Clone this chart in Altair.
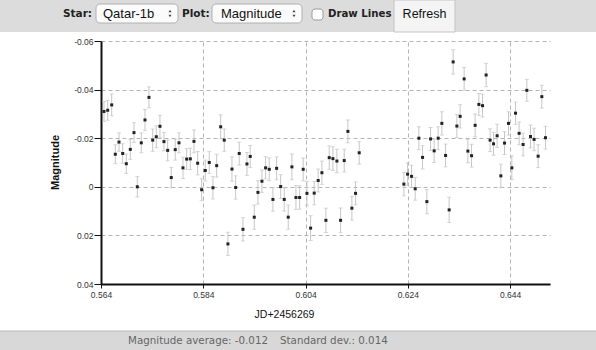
import altair as alt
import pandas as pd

# ---- data ----
jd = [
    0.56459, 0.56531, 0.56609, 0.56680, 0.56752, 0.56824, 0.56895, 0.56973, 0.57045, 0.57110,
    0.57188, 0.57260, 0.57338, 0.57411, 0.57481, 0.57553, 0.57631, 0.57704, 0.57774, 0.57852,
    0.57925, 0.58003, 0.58075, 0.58146, 0.58218, 0.58290, 0.58368, 0.58439, 0.58517, 0.58589,
    0.58662, 0.58740, 0.58810, 0.58882, 0.58961, 0.59033, 0.59103, 0.59176, 0.59254,
    0.59318, 0.59397, 0.59469, 0.59547, 0.59619, 0.59690, 0.59762, 0.59834, 0.59913, 0.59983,
    0.60061, 0.60133, 0.60212, 0.60284, 0.60354, 0.60427, 0.60499, 0.60569, 0.60647, 0.60720,
    0.60798, 0.60863, 0.60935, 0.61013, 0.61085, 0.61156, 0.61228, 0.61306, 0.61378, 0.61449,
    0.62323, 0.62395, 0.62473, 0.62544, 0.62616, 0.62688, 0.62772, 0.62845, 0.62915, 0.62993,
    0.63065, 0.63138, 0.63208, 0.63286, 0.63359, 0.63423, 0.63501, 0.63574, 0.63646, 0.63716,
    0.63789, 0.63861, 0.63931, 0.64009, 0.64076, 0.64146, 0.64219, 0.64291, 0.64369, 0.64434,
    0.64506, 0.64576, 0.64654, 0.64727, 0.64799, 0.64869, 0.64948, 0.65020, 0.65092,
]
mag = [
    -0.0310, -0.0315, -0.0337, -0.0134, -0.0184, -0.0137, -0.0095, -0.0154, -0.0223, 0.0000,
    -0.0181, -0.0275, -0.0368, -0.0192, -0.0206, -0.0249, -0.0186, -0.0150, -0.0038, -0.0153,
    -0.0181, -0.0078, -0.0114, -0.0115, -0.0187, -0.0097, 0.0012, -0.0067, -0.0100, 0.0004,
    -0.0087, -0.0247, -0.0192, 0.0235, -0.0073, 0.0003, -0.0137, 0.0175, -0.0094,
    -0.0125, 0.0125, 0.0023, -0.0023, -0.0078, -0.0072, 0.0052, -0.0076, -0.0001, 0.0052,
    0.0125, -0.0082, 0.0044, 0.0044, -0.0072, 0.0027, 0.0170, 0.0026, -0.0026, -0.0058,
    0.0138, -0.0120, -0.0116, -0.0106, 0.0138, -0.0108, -0.0228, 0.0088, 0.0027, -0.0140,
    -0.0011, -0.0052, -0.0043, 0.0008, -0.0200, -0.0121, 0.0061, -0.0197, -0.0148, -0.0200,
    -0.0261, -0.0129, 0.0095, -0.0514, -0.0250, -0.0290, -0.0444, -0.0147, -0.0128, -0.0253,
    -0.0339, -0.0334, -0.0460, -0.0192, -0.0177, -0.0210, -0.0045, -0.0180, -0.0261, -0.0078,
    -0.0303, -0.0220, -0.0174, -0.0397, -0.0207, -0.0195, -0.0126, -0.0371, -0.0202,
]
err = [
    0.0041, 0.0041, 0.0045, 0.0039, 0.0038, 0.0040, 0.0040, 0.0041, 0.0041, 0.0042,
    0.0041, 0.0043, 0.0043, 0.0046, 0.0045, 0.0045, 0.0038, 0.0043, 0.0042, 0.0043,
    0.0041, 0.0044, 0.0043, 0.0044, 0.0047, 0.0048, 0.0045, 0.0043, 0.0045, 0.0046,
    0.0047, 0.0049, 0.0046, 0.0048, 0.0050, 0.0048, 0.0047, 0.0048, 0.0047,
    0.0045, 0.0050, 0.0048, 0.0046, 0.0046, 0.0047, 0.0048, 0.0047, 0.0049, 0.0048,
    0.0050, 0.0053, 0.0049, 0.0048, 0.0047, 0.0049, 0.0051, 0.0048, 0.0047, 0.0048,
    0.0050, 0.0048, 0.0049, 0.0048, 0.0051, 0.0047, 0.0047, 0.0049, 0.0047, 0.0047,
    0.0048, 0.0047, 0.0046, 0.0047, 0.0047, 0.0048, 0.0050, 0.0047, 0.0048, 0.0047,
    0.0048, 0.0047, 0.0052, 0.0050, 0.0047, 0.0048, 0.0047, 0.0048, 0.0047, 0.0047,
    0.0045, 0.0047, 0.0048, 0.0047, 0.0047, 0.0048, 0.0048, 0.0047, 0.0048, 0.0049,
    0.0046, 0.0047, 0.0047, 0.0045, 0.0047, 0.0046, 0.0047, 0.0047, 0.0047,
]

x_ticks = [0.564, 0.584, 0.604, 0.624, 0.644]
y_ticks = [-0.06, -0.04, -0.02, 0, 0.02, 0.04]

df = pd.DataFrame({"jd": jd, "mag": mag, "err": err})
one = pd.DataFrame({"a": [0]})

TICK_FONT = "Liberation Sans"
GRID = "#b4b4b4"

x_scale = alt.Scale(domain=[0.564, 0.6518], nice=False, zero=False)
y_scale = alt.Scale(domain=[-0.06, 0.04], reverse=True, nice=False, zero=False)

x_axis = alt.Axis(
    values=x_ticks, format=".3f", grid=True, gridDash=[4, 3], gridColor=GRID,
    domainColor="#111", domainWidth=2, tickColor="#111", tickSize=4,
    labelFont=TICK_FONT, labelFontSize=8.5, labelColor="#333", labelFlush=False,
    labelPadding=2, title="JD+2456269", titleFont=TICK_FONT, titleFontSize=10.5,
    titleFontWeight="normal", titleColor="#111", titleX=183, titleY=30,
    titleAlign="center", titleBaseline="middle",
)
y_axis = alt.Axis(
    values=y_ticks, grid=True, gridDash=[4, 3], gridColor=GRID,
    labelExpr="datum.value == 0 ? '0' : (datum.value < 0 ? '-' : '') + format(abs(datum.value), '.2f')",
    domainColor="#111", domainWidth=2, tickColor="#111", tickSize=7,
    labelFont=TICK_FONT, labelFontSize=8.5, labelColor="#333", labelPadding=1,
    title="Magnitude", titleFont=TICK_FONT, titleFontSize=11, titleFontWeight="bold",
    titleColor="#111", titleAngle=270, titleX=-46, titleY=121,
    titleAlign="center", titleBaseline="middle",
)

base = alt.Chart(df).transform_calculate(
    lo="datum.mag - datum.err", hi="datum.mag + datum.err"
)
xe = alt.X("jd:Q", scale=x_scale, axis=x_axis)

bars = base.mark_rule(color="#c6c6c6", strokeWidth=1).encode(
    x=xe, y=alt.Y("lo:Q", scale=y_scale, axis=y_axis), y2="hi:Q"
)
cap_lo = base.mark_tick(orient="horizontal", size=4, thickness=1, color="#c6c6c6").encode(
    x=xe, y=alt.Y("lo:Q", scale=y_scale, axis=y_axis)
)
cap_hi = base.mark_tick(orient="horizontal", size=4, thickness=1, color="#c6c6c6").encode(
    x=xe, y=alt.Y("hi:Q", scale=y_scale, axis=y_axis)
)
pts = base.mark_square(size=9, color="#222", opacity=1).encode(
    x=xe, y=alt.Y("mag:Q", scale=y_scale, axis=y_axis)
)

# ---- page decorations (toolbar and status bar) ----
def rect(x, x2, y, y2, fill, stroke=None, radius=0):
    kw = dict(fill=fill, cornerRadius=radius)
    if stroke:
        kw.update(stroke=stroke, strokeWidth=1)
    return alt.Chart(one).mark_rect(**kw).encode(
        x=alt.value(x), x2=alt.value(x2), y=alt.value(y), y2=alt.value(y2)
    )

def text(t, x, y, size, font, weight="normal", color="#111", align="left"):
    return alt.Chart(one).mark_text(
        font=font, fontSize=size, fontWeight=weight, color=color,
        align=align, baseline="middle"
    ).encode(x=alt.value(x), y=alt.value(y), text=alt.value(t))

def tri(shape, x, y):
    return alt.Chart(one).mark_point(shape=shape, filled=True, size=9, color="#444", opacity=1).encode(
        x=alt.value(x), y=alt.value(y)
    )

BOLD = "DejaVu Sans"
deco = [
    rect(-101, 495, -41, -9, "#dcdcdc"),
    rect(-5, 77, -37, -18, "#fbfbfb", "#b0b0b0", 4),
    rect(111, 201, -37, -18, "#fbfbfb", "#b0b0b0", 4),
    rect(211, 222, -32, -21, "#ffffff", "#9a9a9a", 3),
    rect(293, 354, -41, -9, "#f4f4f4", "#c4c4c4"),
    text("Star:", -38, -27.5, 10.5, BOLD, "bold", "#222"),
    text("Qatar-1b", 2, -27.5, 13, "Liberation Sans"),
    tri("triangle-up", 69, -30),
    tri("triangle-down", 69, -25),
    text("Plot:", 81, -27.5, 10.5, BOLD, "bold", "#222"),
    text("Magnitude", 120, -27.5, 13, "Liberation Sans"),
    tri("triangle-up", 193, -30),
    tri("triangle-down", 193, -25),
    text("Draw Lines", 227, -27.5, 10.2, BOLD, "bold", "#222"),
    text("Refresh", 323.5, -27.5, 12.5, "Liberation Sans", align="center"),
    rect(-101, 495, 290, 309, "#d8d8d8"),
    alt.Chart(one).mark_rule(color="#b8b8b8", strokeWidth=1).encode(
        x=alt.value(-101), x2=alt.value(495), y=alt.value(290)
    ),
    text("Magnitude average: -0.012", 167, 299.5, 10.3, "DejaVu Sans", color="#666", align="right"),
    text("Standard dev.: 0.014", 179, 299.5, 10.3, "DejaVu Sans", color="#666"),
]

chart = alt.layer(bars, cap_lo, cap_hi, pts, *deco).properties(
    width=449,
    height=243,
    autosize=alt.AutoSizeParams(type="none"),
    padding={"left": 101, "top": 41, "right": 46, "bottom": 66},
    background="white",
).configure_view(stroke=None)

chart.save("out.html", embed_options={"renderer": "svg", "actions": False})
